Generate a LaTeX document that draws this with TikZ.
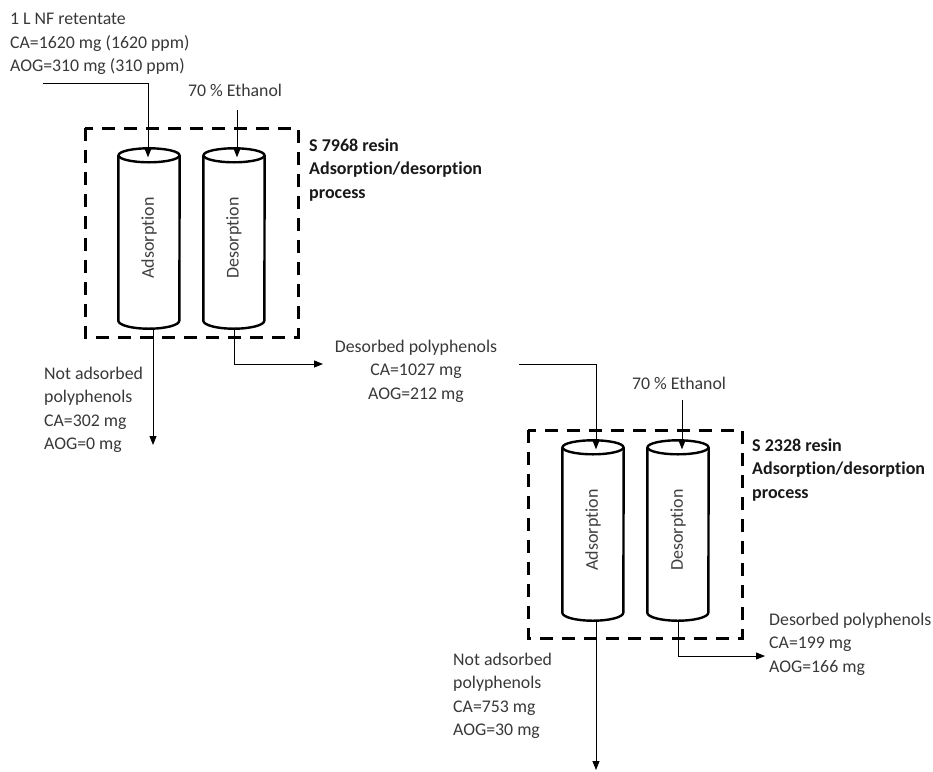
\documentclass[tikz,border=0pt]{standalone}
\usepackage{fontspec}
\setmainfont{Carlito}[Ligatures={NoCommon,NoRare},Contextuals=NoAlternate]
\usetikzlibrary{arrows.meta,calc}
\begin{document}
\begin{tikzpicture}[x=1pt,y=-1pt,
  txt/.style={inner sep=0pt,text=black!78,font=\fontsize{17.8}{23.5}\selectfont},
  btxt/.style={inner sep=0pt,text=black!90,font=\bfseries\fontsize{18}{23.5}\selectfont,align=left,anchor=west},
  cylbox/.style={inner sep=0pt,minimum width=61pt,minimum height=165pt,text=black!75,font=\fontsize{18}{20}\selectfont},
  cylline/.style={line width=2.4pt,fill=white},
  box/.style={line width=3pt,dash pattern=on 13pt off 9pt},
  arr/.style={line width=0.9pt,-{Triangle[length=9pt,width=7pt]}}]
\useasboundingbox (0,0) rectangle (933,771);

\newcommand{\mycyl}[1]{%
  \draw[cylline] (#1.north west) -- (#1.south west)
     arc[start angle=180,end angle=360,x radius=30.5pt,y radius=8pt] -- (#1.north east);
  \draw[cylline] (#1.north) ellipse[x radius=30.5pt,y radius=7pt];}

% dashed boxes
\draw[box] (85,128) rectangle (298,337);
\draw[box] (528,430) rectangle (742,638);

% cylinders (first system)
\node[cylbox] (c1) at (149,238) {};
\node[cylbox] (c2) at (234,238) {};
\mycyl{c1}
\mycyl{c2}
\node[cylbox] (t1) at (c1) {\rotatebox{90}{Ad\-sorp\kern0pt tion}};
\node[cylbox] (t2) at (c2) {\rotatebox{90}{Desorp\kern0pt tion}};

% cylinders (second system)
\node[cylbox] (c3) at (593,530) {};
\node[cylbox] (c4) at (678,530) {};
\mycyl{c3}
\mycyl{c4}
\node[cylbox] (t3) at (c3) {\rotatebox{90}{Adsorp\kern0pt tion}};
\node[cylbox] (t4) at (c4) {\rotatebox{90}{Desorp\kern0pt tion}};

% texts
\node[txt,align=left,anchor=west] (feed) at (10,44) {1 L NF retentate\\CA=1620 mg (1620 ppm)\\AOG=310 mg (310 ppm)};
\node[txt] (eth1) at (235,90) {70 \% Ethanol};
\node[txt] (eth2) at (679,383) {70 \% Ethanol};
\node[btxt] (lab1) at (309,170) {S 7968 resin\\Adsorp\kern0pt tion/desorp\kern0pt tion\\process};
\node[btxt] (lab2) at (752,470) {S 2328 resin\\Adsorp\kern0pt tion/desorp\kern0pt tion\\process};
\node[txt,align=left,anchor=west] (na1) at (44,410) {Not adsorbed\\polyphenols\\CA=302 mg\\AOG=0 mg};
\node[txt,align=center] (de1) at (416,371) {Desorbed polyphenols\\CA=1027 mg\\AOG=212 mg};
\node[txt,align=left,anchor=west] (na2) at (453,696) {Not adsorbed\\polyphenols\\CA=753 mg\\AOG=30 mg};
\node[txt,align=left,anchor=west] (de2) at (769,644) {Desorbed polyphenols\\CA=199 mg\\AOG=166 mg};

% free ends
\coordinate (f1) at (43,83);
\coordinate (e1) at (237,110);
\coordinate (o1) at (153,445);
\coordinate (d1) at (323,364);
\coordinate (l1) at (519,364);
\coordinate (e2) at (682,400);
\coordinate (o2) at (596,770);
\coordinate (d2) at (765,656);

% connectors
\draw[arr] (f1) -| ($(c1.north)+(-1,2)$);
\draw[arr] (e1) -- ($(c2.north)+(3,2)$);
\draw[arr] ($(c1.south)+(4,8)$) -- (o1);
\draw[arr] ($(c2.south)+(0,8)$) |- (d1);
\draw[arr] (l1) -| ($(c3.north)+(3,2)$);
\draw[arr] (e2) -- ($(c4.north)+(4,2)$);
\draw[arr] ($(c3.south)+(3,8)$) -- (o2);
\draw[arr] ($(c4.south)+(0,8)$) |- (d2);
\end{tikzpicture}
\end{document}
